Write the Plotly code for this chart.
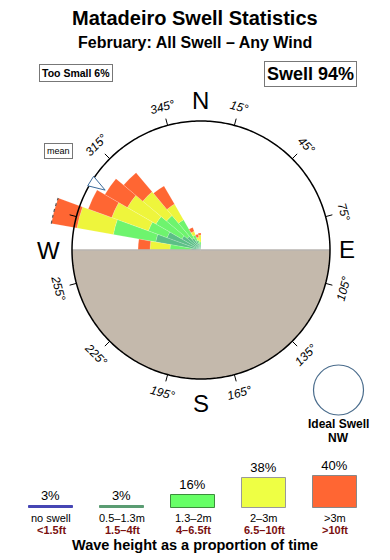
import numpy as np
import plotly.graph_objects as go

# ---------------- data ----------------
# direction bins (centre, degrees, 10 deg wide)
bin_theta = [275, 285, 295, 305, 315, 325, 335, 345, 355]
# stacked segment lengths per height class (rose radial units)
seg_teal = [10, 46, 36, 22, 18, 14, 10, 6, 5]      # 0.5-1.3m
seg_green = [21, 43, 20, 30, 27, 21, 6, 4, 3]      # 1.3-2m
seg_yellow = [20, 37, 39, 33, 31, 18, 4, 3, 7]     # 2-3m
seg_orange = [12, 26, 25, 26, 25, 21, 4, 3, 2]     # >3m

mean_dir = 302
tick_angles = [15, 45, 75, 105, 135, 165, 195, 225, 255, 285, 315, 345]
tick_labels_shown = [15, 45, 75, 105, 135, 165, 195, 225, 255, 315, 345]

legend_pct = [3, 3, 16, 38, 40]
legend_m = ["no swell", "0.5\u20131.3m", "1.3\u20132m", "2\u20133m", ">3m"]
legend_ft = ["<1.5ft", "1.5\u20134ft", "4\u20136.5ft", "6.5\u201310ft", ">10ft"]

# ---------------- styling ----------------
OFF = 8                      # browser default body margin
W, H = 382, 552              # figure size (page is 390x560)
CX, CY = 201, 250            # rose centre in page px
R_CIRCLE = 129
R_MAX = 160
FONT = "Liberation Sans, Arial, Helvetica, sans-serif"

c_blue = "#4646b4"
c_teal = "#5cbf86"
c_green = "#6ef46e"
c_yellow = "#eef53c"
c_orange = "#ff6633"
c_ground = "#c4b9ac"

fig = go.Figure()

# ground (lower half)
fig.add_trace(go.Barpolar(r=[R_CIRCLE], theta=[180], width=[180],
                          marker=dict(color=c_ground, line=dict(width=0)),
                          hoverinfo="skip", showlegend=False))
fig.add_trace(go.Scatterpolar(r=[R_CIRCLE, 0, R_CIRCLE], theta=[270, 0, 90],
                              mode="lines", line=dict(color="#b8b4b0", width=1.5),
                              hoverinfo="skip", showlegend=False))

# ticks
tr, tt = [], []
for a in tick_angles:
    tr += [R_CIRCLE, R_CIRCLE + 7, None]
    tt += [a, a, None]
fig.add_trace(go.Scatterpolar(r=tr, theta=tt, mode="lines",
                              line=dict(color="black", width=1),
                              hoverinfo="skip", showlegend=False))

# rose wedges
for seg, col in [(seg_teal, c_teal), (seg_green, c_green),
                 (seg_yellow, c_yellow), (seg_orange, c_orange)]:
    fig.add_trace(go.Barpolar(r=seg, theta=bin_theta, width=[10] * len(bin_theta),
                              marker=dict(color=col, line=dict(color="rgba(255,255,255,0.35)", width=0.5)),
                              hoverinfo="skip", showlegend=False))

# off-scale marker on longest bar
tot = np.array(seg_teal) + np.array(seg_green) + np.array(seg_yellow) + np.array(seg_orange)
imax = int(np.argmax(tot))
fig.add_trace(go.Scatterpolar(r=[float(tot[imax])] * 11,
                              theta=list(np.linspace(bin_theta[imax] - 5, bin_theta[imax] + 5, 11)),
                              mode="lines", line=dict(color="#555555", width=1.2, dash="dot"),
                              hoverinfo="skip", showlegend=False))

# circle
th = np.linspace(0, 360, 361)
fig.add_trace(go.Scatterpolar(r=[R_CIRCLE] * len(th), theta=th, mode="lines",
                              line=dict(color="black", width=1.5),
                              hoverinfo="skip", showlegend=False))

# mean arrow (tip pointing inward)
fig.add_trace(go.Scatterpolar(r=[R_CIRCLE - 16], theta=[mean_dir], mode="markers",
                              marker=dict(symbol="arrow", size=18, angle=mean_dir - 180,
                                          color="white", line=dict(color="#3a6a9a", width=1)),
                              hoverinfo="skip", showlegend=False))

cxf, cyf = CX - OFF, CY - OFF
fig.update_layout(
    polar=dict(
        domain=dict(x=[(cxf - R_MAX) / W, (cxf + R_MAX) / W],
                    y=[(H - cyf - R_MAX) / H, (H - cyf + R_MAX) / H]),
        bgcolor="rgba(0,0,0,0)",
        bargap=0,
        barmode="stack",
        radialaxis=dict(visible=False, range=[0, R_MAX]),
        angularaxis=dict(visible=False, direction="clockwise", rotation=90),
    )
)

# legend bars
leg_colors = [c_blue, "#5a9c72", "#66ff66", "#eeff44", "#ff6633"]
leg_lines = [c_blue, "#5a9c72", "#3c8c3c", "#999999", "#888888"]
fig.add_trace(go.Bar(x=list(range(5)), y=legend_pct, width=0.62,
                     marker=dict(color=leg_colors, line=dict(color=leg_lines, width=1)),
                     text=[f"{p}%" for p in legend_pct], textposition="outside",
                     textfont=dict(size=13, color="black", family=FONT),
                     cliponaxis=False, xaxis="x", yaxis="y",
                     hoverinfo="skip", showlegend=False))
x0, dx = 51, 71
base_y = 508
fig.update_layout(
    xaxis=dict(domain=[0, 1], range=[-(x0 - OFF) / dx, (W + OFF - x0) / dx], visible=False, fixedrange=True),
    yaxis=dict(domain=[(H - (base_y - OFF)) / H, (H - (base_y - OFF) + 40) / H], range=[0, 50],
               visible=False, fixedrange=True),
    bargap=0,
)

ann = []


def P(x, y):
    return (x - OFF) / W, 1 - (y - OFF) / H


def add_text(x, y, text, size, color="black", bold=False, **kw):
    xx, yy = P(x, y)
    ann.append(dict(x=xx, y=yy, xref="paper", yref="paper", showarrow=False,
                    text=f"<b>{text}</b>" if bold else text,
                    font=dict(size=size, color=color, family=FONT),
                    xanchor="center", yanchor="middle", **kw))


add_text(195, 18, "Matadeiro Swell Statistics", 20, bold=True)
add_text(195, 42, "February: All Swell \u2013 Any Wind", 16, bold=True)
add_text(76, 73, "Too Small 6%", 10.5, bold=True, bordercolor="#777", borderwidth=1, borderpad=2)
add_text(310, 74, "Swell 94%", 18, bold=True, bordercolor="#777", borderwidth=1, borderpad=2)
add_text(58, 151, "mean", 9, bordercolor="#777", borderwidth=1, borderpad=2)

# compass letters
for lab, ang, rr in [("N", 0, 149), ("E", 90, 146), ("S", 180, 153), ("W", 270, 153)]:
    a = np.radians(ang)
    add_text(CX + rr * np.sin(a), CY - rr * np.cos(a), lab, 24)

# degree labels
for t in tick_labels_shown:
    a = np.radians(t)
    rot = t if t < 90 else (t - 180 if t < 270 else t - 360)
    add_text(CX + 148 * np.sin(a), CY - 148 * np.cos(a), f"<i>{t}\u00b0</i>", 12, textangle=rot)

# ideal swell
fig.add_shape(type="circle", xref="paper", yref="paper",
              x0=(338.5 - 25 - OFF) / W, x1=(338.5 + 25 - OFF) / W,
              y0=1 - (390 + 25 - OFF) / H, y1=1 - (390 - 25 - OFF) / H,
              line=dict(color="#4a6c8c", width=1.2), fillcolor="white")
add_text(338, 424, "Ideal Swell", 12, bold=True)
add_text(338, 438, "NW", 12, bold=True)

# legend labels
for i in range(5):
    add_text(x0 + dx * i, 518, legend_m[i], 11)
    add_text(x0 + dx * i, 530, legend_ft[i], 11, color="#7a1010", bold=True)
add_text(195, 545, "Wave height as a proportion of time", 14.5, bold=True)

fig.update_layout(annotations=ann, width=W, height=H,
                  margin=dict(l=0, r=0, t=0, b=0),
                  paper_bgcolor="white", plot_bgcolor="white",
                  font=dict(family=FONT))

fig.write_html("out.html")
